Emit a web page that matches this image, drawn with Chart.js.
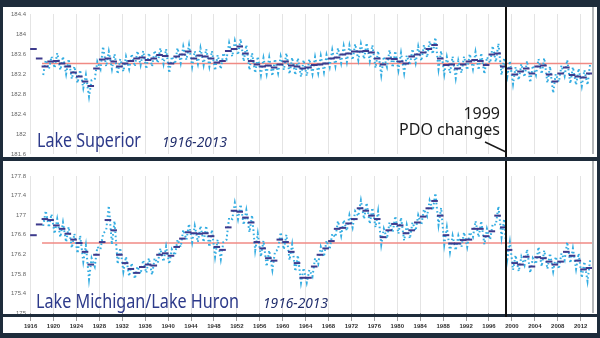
<!DOCTYPE html>
<html>
<head>
<meta charset="utf-8">
<title>Great Lakes levels 1916-2013</title>
<script src="https://cdn.jsdelivr.net/npm/chart.js@4.4.1/dist/chart.umd.min.js"></script>
<style>
  html, body { margin: 0; padding: 0; }
  body { width: 600px; height: 338px; background: #1e2c3b; position: relative; overflow: hidden; }
  .panel { position: absolute; left: 3px; width: 594px; background: #fff; overflow: hidden; }
  #panel-top { top: 7px; height: 150px; }
  #panel-bottom { top: 161px; height: 172px; }
  .box { position: relative; width: 597px; }
  #panel-top .box { height: 153px; }
  #panel-bottom .box { height: 172px; }
</style>
</head>
<body>
<div class="panel" id="panel-top"><div class="box"><canvas id="superior"></canvas></div></div>
<div class="panel" id="panel-bottom"><div class="box"><canvas id="michigan"></canvas></div></div>
<script>
// Lake levels (m), annual mean + low / high monthly reading for each year
const firstYear = 1916;
const period = "1916-2013";
const pdoYear = 1999;
const avgStart = 1918;

const yearTicks = [1916, 1920, 1924, 1928, 1932, 1936, 1940, 1944, 1948, 1952, 1956, 1960, 1964,
  1968, 1972, 1976, 1980, 1984, 1988, 1992, 1996, 2000, 2004, 2008, 2012];
const supTicks = [181.6, 182, 182.4, 182.8, 183.2, 183.6, 184, 184.4];
const mhTicks = [175, 175.4, 175.8, 176.2, 176.6, 177, 177.4, 177.8];

const supAvg = 183.41;
const mhAvg = 176.43;

const supMean = [
  183.70, 183.51, 183.35, 183.45, 183.46, 183.41, 183.35, 183.23, 183.15, 183.05,
  182.96, 183.31, 183.49, 183.51, 183.45, 183.35, 183.41, 183.46, 183.51, 183.53,
  183.48, 183.51, 183.58, 183.56, 183.41, 183.55, 183.59, 183.65, 183.51, 183.57,
  183.55, 183.51, 183.43, 183.46, 183.66, 183.70, 183.75, 183.61, 183.46, 183.39,
  183.35, 183.37, 183.33, 183.39, 183.45, 183.37, 183.35, 183.31, 183.33, 183.38,
  183.39, 183.41, 183.51, 183.53, 183.59, 183.61, 183.65, 183.65, 183.66, 183.63,
  183.51, 183.39, 183.51, 183.50, 183.45, 183.41, 183.55, 183.59, 183.63, 183.70,
  183.78, 183.51, 183.38, 183.39, 183.31, 183.39, 183.45, 183.48, 183.46, 183.38,
  183.59, 183.61, 183.35, 183.31, 183.19, 183.25, 183.31, 183.21, 183.35, 183.37,
  183.19, 183.05, 183.21, 183.33, 183.18, 183.15, 183.13, 183.21
];
const supLow = [
  null, null, 183.18, 183.30, 183.32, 183.28, 183.20, 183.10, 183.02, 182.92,
  182.75, 183.10, 183.30, 183.35, 183.30, 183.20, 183.25, 183.30, 183.35, 183.38,
  183.30, 183.35, 183.42, 183.40, 183.22, 183.40, 183.42, 183.48, 183.35, 183.40,
  183.38, 183.35, 183.27, 183.30, 183.50, 183.55, 183.58, 183.45, 183.28, 183.22,
  183.18, 183.20, 183.16, 183.22, 183.28, 183.20, 183.18, 183.14, 183.16, 183.20,
  183.22, 183.24, 183.34, 183.36, 183.42, 183.44, 183.48, 183.48, 183.50, 183.46,
  183.32, 183.18, 183.34, 183.33, 183.28, 183.22, 183.38, 183.42, 183.46, 183.53,
  183.60, 183.30, 183.20, 183.22, 183.12, 183.22, 183.28, 183.30, 183.28, 183.20,
  183.42, 183.44, 183.18, 183.15, 183.00, 183.08, 183.14, 183.03, 183.18, 183.20,
  183.02, 182.82, 183.04, 183.16, 183.01, 182.98, 182.96, 182.98
];
const supHigh = [
  null, null, 183.48, 183.55, 183.62, 183.55, 183.50, 183.35, 183.28, 183.18,
  183.08, 183.45, 183.75, 183.65, 183.60, 183.50, 183.55, 183.60, 183.66, 183.66,
  183.62, 183.67, 183.72, 183.70, 183.55, 183.72, 183.75, 183.78, 183.66, 183.72,
  183.70, 183.66, 183.58, 183.62, 183.82, 183.86, 183.90, 183.78, 183.62, 183.55,
  183.52, 183.53, 183.50, 183.55, 183.62, 183.53, 183.52, 183.48, 183.50, 183.54,
  183.56, 183.58, 183.68, 183.72, 183.76, 183.77, 183.80, 183.80, 183.82, 183.78,
  183.66, 183.55, 183.68, 183.66, 183.62, 183.57, 183.70, 183.75, 183.78, 183.86,
  183.93, 183.66, 183.54, 183.55, 183.47, 183.55, 183.60, 183.64, 183.62, 183.54,
  183.76, 183.81, 183.52, 183.46, 183.34, 183.40, 183.46, 183.37, 183.50, 183.52,
  183.35, 183.20, 183.37, 183.48, 183.34, 183.31, 183.28, 183.40
];

const mhMean = [
  176.59, 176.81, 176.92, 176.90, 176.79, 176.72, 176.62, 176.50, 176.43, 176.25,
  175.99, 176.19, 176.45, 176.90, 176.69, 176.19, 176.02, 175.90, 175.82, 175.94,
  175.99, 175.97, 176.19, 176.22, 176.17, 176.35, 176.52, 176.65, 176.63, 176.62,
  176.63, 176.57, 176.35, 176.29, 176.75, 177.09, 177.07, 176.95, 176.85, 176.45,
  176.32, 176.12, 176.07, 176.50, 176.45, 176.25, 176.02, 175.72, 175.72, 175.95,
  176.19, 176.32, 176.47, 176.72, 176.74, 176.83, 176.92, 177.14, 177.09, 176.99,
  176.92, 176.55, 176.69, 176.82, 176.79, 176.63, 176.69, 176.85, 176.97, 177.14,
  177.29, 176.99, 176.59, 176.42, 176.42, 176.49, 176.50, 176.72, 176.72, 176.57,
  176.67, 176.99, 176.75, 176.29, 176.02, 175.99, 176.15, 175.95, 176.14, 176.12,
  176.05, 175.99, 176.05, 176.25, 176.17, 176.07, 175.89, 175.92
];
const mhLow = [
  null, null, 176.78, 176.75, 176.62, 176.55, 176.45, 176.33, 176.22, 176.05,
  175.69, 175.95, 176.30, 176.70, 176.40, 176.00, 175.85, 175.75, 175.70, 175.80,
  175.82, 175.78, 176.02, 176.05, 176.00, 176.18, 176.35, 176.50, 176.45, 176.45,
  176.45, 176.35, 176.15, 176.10, 176.50, 176.92, 176.92, 176.80, 176.65, 176.28,
  176.15, 175.95, 175.88, 176.30, 176.30, 176.08, 175.85, 175.62, 175.62, 175.75,
  176.00, 176.15, 176.30, 176.55, 176.58, 176.68, 176.75, 176.98, 176.92, 176.82,
  176.75, 176.40, 176.52, 176.65, 176.62, 176.48, 176.52, 176.68, 176.80, 176.98,
  177.10, 176.80, 176.40, 176.25, 176.28, 176.35, 176.35, 176.55, 176.55, 176.40,
  176.50, 176.80, 176.55, 176.10, 175.88, 175.85, 175.98, 175.82, 176.00, 175.95,
  175.90, 175.85, 175.90, 176.08, 176.02, 175.90, 175.72, 175.65
];
const mhHigh = [
  null, null, 177.09, 177.02, 176.92, 176.85, 176.76, 176.62, 176.58, 176.38,
  176.12, 176.35, 176.62, 177.19, 176.88, 176.33, 176.15, 176.02, 175.95, 176.08,
  176.12, 176.12, 176.32, 176.36, 176.30, 176.50, 176.70, 176.82, 176.78, 176.78,
  176.78, 176.70, 176.50, 176.45, 176.95, 177.25, 177.22, 177.10, 177.00, 176.62,
  176.48, 176.28, 176.25, 176.65, 176.60, 176.40, 176.18, 175.92, 175.88, 176.12,
  176.35, 176.48, 176.62, 176.88, 176.90, 177.00, 177.08, 177.30, 177.25, 177.15,
  177.08, 176.72, 176.85, 176.98, 176.95, 176.80, 176.85, 177.00, 177.12, 177.30,
  177.45, 177.15, 176.75, 176.58, 176.58, 176.65, 176.65, 176.88, 176.88, 176.72,
  176.82, 177.18, 176.92, 176.45, 176.18, 176.15, 176.30, 176.12, 176.35, 176.28,
  176.22, 176.15, 176.22, 176.45, 176.32, 176.22, 176.05, 176.08
];

const years = supMean.map((_, i) => firstYear + i);
const xMin = 1915.55;
const xMax = 2014.33;

function lakeDatasets(mean, low, high, avg) {
  // monthly readings: each year's low then high, joined as a dotted trace
  const monthly = [];
  years.forEach((yr, i) => {
    if (low[i] == null) return;
    monthly.push({ x: yr + 0.2, y: low[i] }, { x: yr + 0.65, y: high[i] });
  });
  return [
    {
      label: "annual",
      data: years.map((yr, i) => ({ x: yr + 0.5, y: mean[i] })),
      pointStyle: "line",
      pointRadius: 3.3,
      borderColor: "#3d3a8c",
      borderWidth: 2,
    },
    {
      label: "monthly",
      type: "line",
      data: monthly,
      borderColor: "#33ade2",
      borderWidth: 2,
      borderDash: [1.6, 2.6],
      pointRadius: 0,
      tension: 0,
    },
    {
      label: "average",
      type: "line",
      data: [{ x: avgStart, y: avg }, { x: xMax, y: avg }],
      borderColor: "#f08a84",
      borderWidth: 1.6,
      pointRadius: 0,
    },
  ];
}

// draws the extras: PDO line, lake names, separators
const decor = {
  id: "decor",
  afterDatasetsDraw(chart, args, o) {
    const { ctx, chartArea: a, scales } = chart;
    const px = Math.round(scales.x.getPixelForValue(pdoYear));
    ctx.save();
    ctx.fillStyle = "#b5b8bb";
    ctx.fillRect(a.right - 2, 0, 2, a.bottom);
    if (o.separator) {
      ctx.fillStyle = "#1e2c3b";
      ctx.fillRect(0, a.bottom + 1, chart.width, 3);
    }
    ctx.fillStyle = "#111";
    ctx.fillRect(px - 1, 0, 2, o.lineBottom ? a.bottom + o.lineBottom : chart.height);

    ctx.fillStyle = "#2d3a8a";
    ctx.textAlign = "left";
    ctx.textBaseline = "alphabetic";
    ctx.font = '19px "Noto Sans"';
    ctx.fillText(o.name, o.nameX, o.textY, o.nameW);
    ctx.fillStyle = "#23306e";
    ctx.font = 'italic 15px "Noto Sans"';
    ctx.fillText(period, o.periodX, o.textY, 65);

    if (o.note) {
      ctx.fillStyle = "#1a1a1a";
      ctx.textAlign = "right";
      ctx.font = '16px "Noto Sans"';
      ctx.fillText(String(pdoYear), px - 6, 112);
      ctx.fillText("PDO changes", px - 6, 128);
      ctx.strokeStyle = "#1a1a1a";
      ctx.lineWidth = 1.4;
      ctx.beginPath();
      ctx.moveTo(px - 21, 135);
      ctx.lineTo(px, 145);
      ctx.stroke();
    }
    ctx.restore();
  },
};

function makeChart(id, cfg) {
  return new Chart(document.getElementById(id), {
    type: "scatter",
    data: { datasets: lakeDatasets(cfg.mean, cfg.low, cfg.high, cfg.avg) },
    options: {
      responsive: true,
      maintainAspectRatio: false,
      animation: false,
      devicePixelRatio: 1,
      layout: { padding: cfg.padding },
      plugins: { legend: { display: false }, tooltip: { enabled: false }, decor: cfg.decor },
      scales: {
        x: {
          type: "linear",
          min: xMin,
          max: xMax,
          afterBuildTicks: (s) => { s.ticks = yearTicks.map((v) => ({ value: v })); },
          afterFit: (s) => { s.height = cfg.showYears ? 20 : 0; },
          grid: { color: "#e4e4e4", tickColor: "#9a9a9a", tickLength: 8, drawTicks: cfg.showYears },
          border: { display: false },
          ticks: {
            display: cfg.showYears,
            font: { size: 6, weight: "bold", family: "Liberation Sans" },
            color: "#333",
            padding: 2,
            maxRotation: 0,
            autoSkip: false,
            callback: (v) => String(v),
          },
        },
        y: {
          min: cfg.ticks[0],
          max: cfg.ticks[cfg.ticks.length - 1],
          afterBuildTicks: (s) => { s.ticks = cfg.ticks.map((v) => ({ value: v })); },
          afterFit: (s) => { s.width = 25; },
          grid: { display: false, drawTicks: false },
          border: { display: false },
          ticks: {
            font: { size: 6, family: "Liberation Sans" },
            color: "#666",
            padding: 2,
            callback: (v) => String(v),
          },
        },
      },
    },
    plugins: [decor],
  });
}

makeChart("superior", {
  mean: supMean, low: supLow, high: supHigh, avg: supAvg, ticks: supTicks,
  showYears: false,
  padding: { top: 7, right: 5, bottom: 6, left: 0 },
  decor: { name: "Lake Superior", nameX: 34, nameW: 104, periodX: 159, textY: 140, note: true },
});

makeChart("michigan", {
  mean: mhMean, low: mhLow, high: mhHigh, avg: mhAvg, ticks: mhTicks,
  showYears: true,
  padding: { top: 15, right: 5, bottom: 0, left: 0 },
  decor: { name: "Lake Michigan/Lake Huron", nameX: 33, nameW: 203, periodX: 260, textY: 147, separator: true, lineBottom: 4 },
});
</script>
</body>
</html>
